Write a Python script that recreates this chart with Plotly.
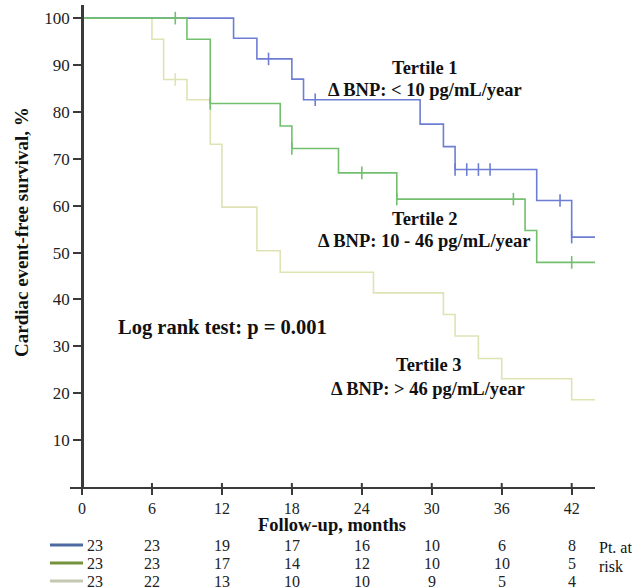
import plotly.graph_objects as go

# ---------------- data ----------------
t1_time = [0, 13, 15, 18, 19, 29, 31, 32, 39, 42, 44]
t1_surv = [100, 95.7, 91.3, 87.0, 82.6, 77.4, 72.6, 67.7, 61.1, 53.3, 53.3]
t1_cens_time = [16, 20, 32, 33, 34, 35, 41, 42]
t1_cens_surv = [91.3, 82.6, 67.7, 67.7, 67.7, 67.7, 61.1, 53.3]

t2_time = [0, 9, 11, 17, 18, 22, 27, 38, 39, 44]
t2_surv = [100, 95.5, 81.8, 77.0, 72.2, 67.0, 61.4, 54.7, 47.9, 47.9]
t2_cens_time = [8, 11, 18, 24, 27, 37, 42]
t2_cens_surv = [100, 81.8, 72.2, 67.0, 61.4, 61.4, 47.9]

t3_time = [0, 6, 7, 9, 11, 12, 15, 17, 25, 31, 32, 34, 36, 42, 44]
t3_surv = [100, 95.5, 86.9, 82.6, 73.1, 59.7, 50.4, 45.8, 41.4, 36.8, 32.2, 27.4, 23.1, 18.6, 18.6]
t3_cens_time = [8]
t3_cens_surv = [86.9]

x_ticks = [0, 6, 12, 18, 24, 30, 36, 42]
y_ticks = [10, 20, 30, 40, 50, 60, 70, 80, 90, 100]

risk_t1 = [23, 23, 19, 17, 16, 10, 6, 8]
risk_t2 = [23, 23, 17, 14, 12, 10, 10, 5]
risk_t3 = [23, 22, 13, 10, 10, 9, 5, 4]

# ---------------- styling ----------------
W, H = 632, 587
L, R, T, B = 70, 37, 5, 100
PW, PH = W - L - R, H - T - B
XMIN, XMAX = -1.03, 44
YMIN, YMAX = 0, 102.8

FONT = "Liberation Serif, Times New Roman, Tinos, DejaVu Serif, serif"
AX = "#3a3a3a"
C1, C2, C3 = "#6d7ed2", "#72c06e", "#dfe3b4"
L1, L2, L3 = "#4f6aa0", "#76923c", "#c6c8b2"


def pxx(xp):
    return (xp - L) / PW


def pxy(yp):
    return (H - B - yp) / PH


def xdata(xp):
    return XMIN + (xp - L) / PW * (XMAX - XMIN)


fig = go.Figure()

for tt, ss, ct, cs, col in [
    (t3_time, t3_surv, t3_cens_time, t3_cens_surv, C3),
    (t1_time, t1_surv, t1_cens_time, t1_cens_surv, C1),
    (t2_time, t2_surv, t2_cens_time, t2_cens_surv, C2),
]:
    fig.add_trace(go.Scatter(x=tt, y=ss, mode="lines", line=dict(color=col, width=1.6, shape="hv"),
                             showlegend=False, hoverinfo="skip"))
    fig.add_trace(go.Scatter(x=ct, y=cs, mode="markers",
                             marker=dict(symbol="line-ns-open", size=9, color=col,
                                         line=dict(color=col, width=1.6)),
                             showlegend=False, hoverinfo="skip"))

y_pos = (0 - XMIN) / (XMAX - XMIN)

fig.update_layout(
    width=W, height=H,
    margin=dict(l=L, r=R, t=T, b=B),
    paper_bgcolor="white", plot_bgcolor="white",
    font=dict(family=FONT, color="#111"),
    xaxis=dict(range=[XMIN, XMAX], tickvals=x_ticks, ticktext=[str(v) for v in x_ticks],
               showgrid=False, zeroline=False, showline=True, linecolor=AX, linewidth=2,
               ticks="outside", ticklen=6, tickwidth=2, tickcolor=AX,
               tickfont=dict(family=FONT, size=16, color="#222")),
    yaxis=dict(range=[YMIN, YMAX], tickvals=y_ticks, ticktext=[str(v) for v in y_ticks],
               anchor="free", position=y_pos,
               showgrid=False, zeroline=False, showline=True, linecolor=AX, linewidth=2.5,
               ticks="outside", ticklen=8, tickwidth=2, tickcolor=AX,
               tickfont=dict(family=FONT, size=17, color="#222")),
)

shapes = []
# upper stubs of crossing x ticks
for v in x_ticks:
    shapes.append(dict(type="line", xref="x", yref="y", x0=v, x1=v, ysizemode="pixel", yanchor=0,
                       y0=0, y1=4, line=dict(color=AX, width=2)))
# small extension of y axis below x axis
shapes.append(dict(type="line", xref="x", yref="y", x0=0, x1=0, ysizemode="pixel", yanchor=0,
                   y0=0, y1=-7, line=dict(color=AX, width=2.5)))

# risk table rows
row_y = [545, 563, 581]
for ry, lc in zip(row_y, [L1, L2, L3]):
    shapes.append(dict(type="line", xref="paper", yref="paper", x0=pxx(50), x1=pxx(83),
                       y0=pxy(ry), y1=pxy(ry), line=dict(color=lc, width=3)))
fig.update_layout(shapes=shapes)

ann = []


def text(xp, yp, s, size=18.5, bold=True, xanchor="center"):
    ann.append(dict(x=pxx(xp), y=pxy(yp), xref="paper", yref="paper", showarrow=False,
                    text=("<b>%s</b>" % s) if bold else s, xanchor=xanchor, yanchor="middle",
                    font=dict(family=FONT, size=size, color="#111")))


text(425, 68, "Tertile 1")
text(425, 90, "Δ BNP: &lt; 10 pg/mL/year")
text(425, 219, "Tertile 2")
text(424, 241, "Δ BNP: 10 - 46 pg/mL/year")
text(429, 365, "Tertile 3")
text(428, 389, "Δ BNP: &gt; 46 pg/mL/year")
text(222, 327, "Log rank test: p = 0.001", size=20.5)
text(332, 525, "Follow-up, months", size=18.5)

ann.append(dict(x=pxx(21), y=pxy(232), xref="paper", yref="paper", showarrow=False,
                text="<b>Cardiac event-free survival, %</b>", textangle=-90,
                xanchor="center", yanchor="middle", font=dict(family=FONT, size=19, color="#111")))

for ry, vals in zip(row_y, [risk_t1, risk_t2, risk_t3]):
    for t, v in zip(x_ticks, vals):
        xx = t if t > 0 else xdata(95)
        ann.append(dict(x=xx, y=pxy(ry), xref="x", yref="paper", showarrow=False, text=str(v),
                        xanchor="center", yanchor="middle",
                        font=dict(family=FONT, size=16, color="#222")))

text(597, 547, "Pt. at", size=16, bold=False, xanchor="left")
text(597, 566, "risk", size=16, bold=False, xanchor="left")

fig.update_layout(annotations=ann)
fig.write_html("out.html")
